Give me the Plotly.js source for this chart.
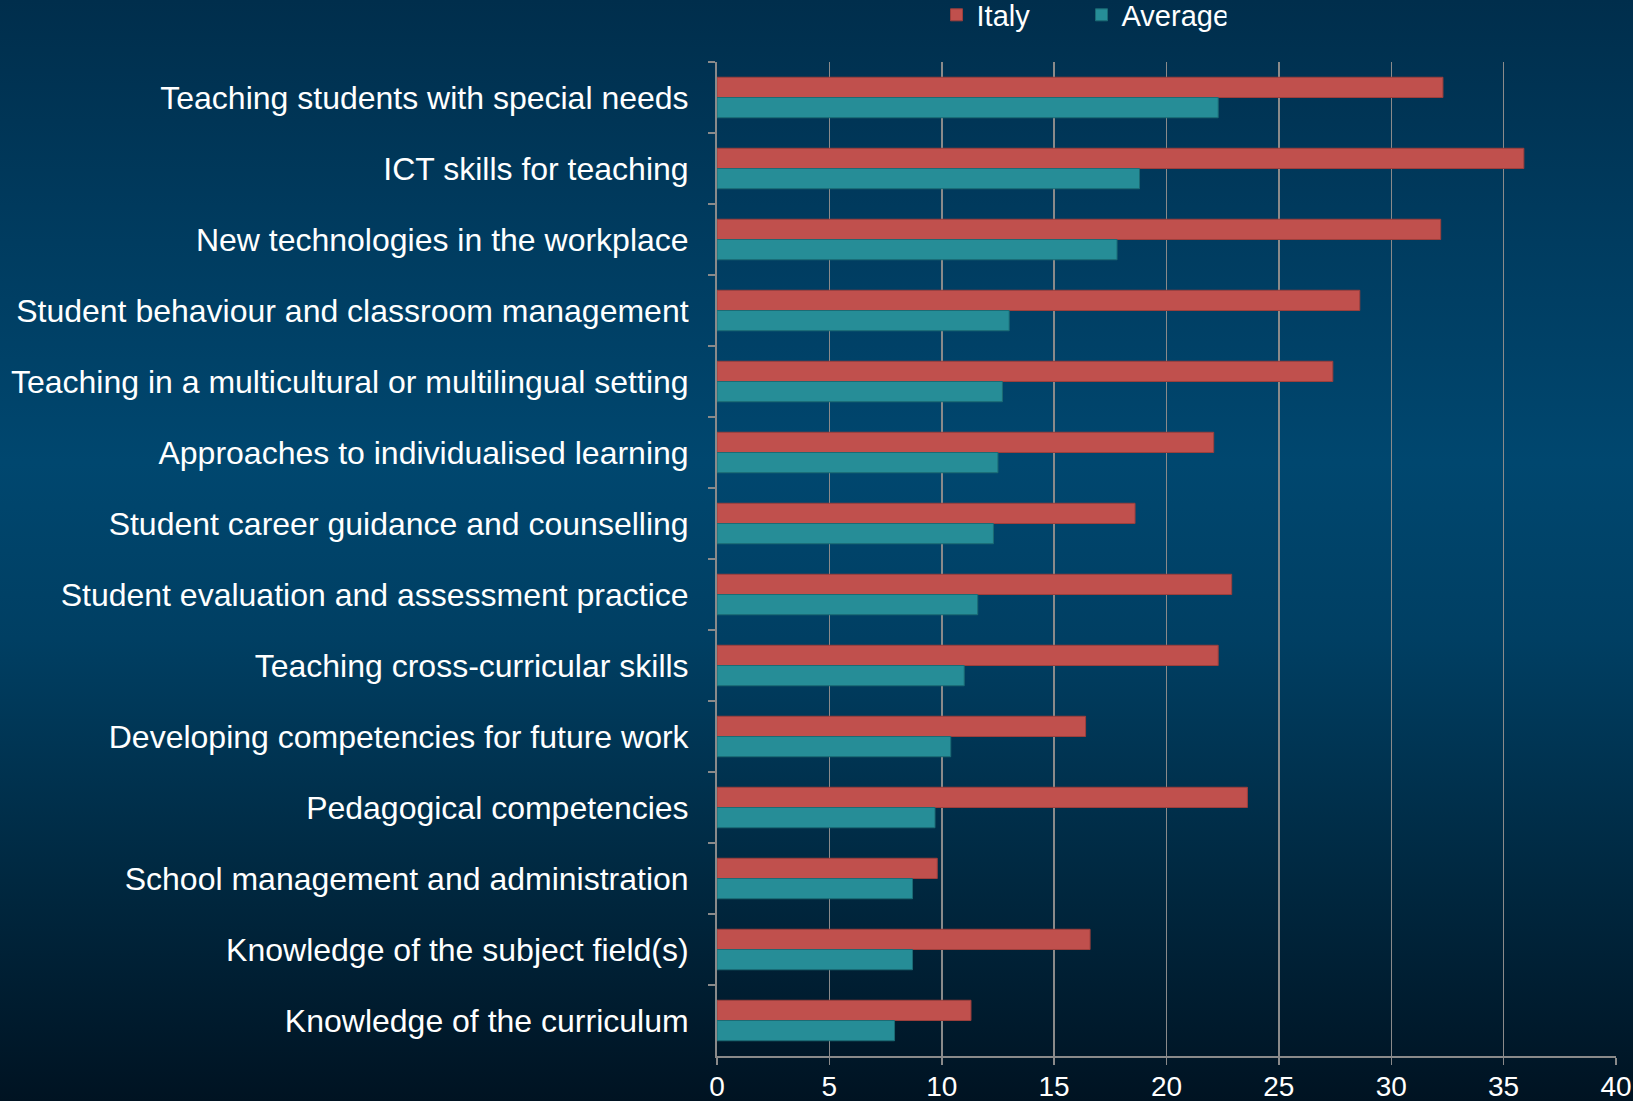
<!DOCTYPE html>
<html>
<head>
<meta charset="utf-8">
<script src="https://cdn.plot.ly/plotly-3.0.1.min.js"></script>
<style>
  html, body { margin: 0; padding: 0; }
  body {
    width: 1633px; height: 1101px; overflow: hidden;
    background: linear-gradient(to bottom, #002e4c 0%, #003c60 22%, #00476f 42%, #003f63 58%, #002840 80%, #001322 100%);
  }
  #chart { width: 1633px; height: 1101px; }
</style>
</head>
<body>
<div id="chart"></div>
<script>
const categories = [
  "Teaching students with special needs",
  "ICT skills for teaching",
  "New technologies in the workplace",
  "Student behaviour and classroom management",
  "Teaching in a multicultural or multilingual setting",
  "Approaches to individualised learning",
  "Student career guidance and counselling",
  "Student evaluation and assessment practice",
  "Teaching cross-curricular skills",
  "Developing competencies for future work",
  "Pedagogical competencies",
  "School management and administration",
  "Knowledge of the subject field(s)",
  "Knowledge of the curriculum"
];
const italy = [32.3, 35.9, 32.2, 28.6, 27.4, 22.1, 18.6, 22.9, 22.3, 16.4, 23.6, 9.8, 16.6, 11.3];
const average = [22.3, 18.8, 17.8, 13.0, 12.7, 12.5, 12.3, 11.6, 11.0, 10.4, 9.7, 8.7, 8.7, 7.9];
const seriesNames = ["Italy", "Average"];
const xTicks = [0, 5, 10, 15, 20, 25, 30, 35, 40];

const font = "Liberation Sans, Arial, sans-serif";

const traces = [
  {
    type: "bar", orientation: "h", name: seriesNames[0],
    y: categories, x: italy,
    marker: { color: "#c0504d", line: { color: "#9c3f3c", width: 1 } },
    hoverinfo: "x+y"
  },
  {
    type: "bar", orientation: "h", name: seriesNames[1],
    y: categories, x: average,
    marker: { color: "#268d97", line: { color: "#1c6b74", width: 1 } },
    hoverinfo: "x+y"
  }
];

const layout = {
  width: 1633, height: 1101,
  paper_bgcolor: "rgba(0,0,0,0)",
  plot_bgcolor: "rgba(0,0,0,0)",
  margin: { l: 717, r: 17, t: 62, b: 45, pad: 0 },
  barmode: "group",
  bargap: 0.43,
  bargroupgap: 0,
  font: { family: font, color: "#ffffff", size: 28 },
  showlegend: true,
  legend: {
    orientation: "h",
    xref: "container", yref: "container",
    x: 0.5735, xanchor: "left",
    y: 0.9864, yanchor: "middle",
    font: { family: font, size: 29, color: "#ffffff" },
    bgcolor: "rgba(0,0,0,0)",
    borderwidth: 0,
    entrywidth: 100,
    itemwidth: 30,
    traceorder: "normal"
  },
  xaxis: {
    range: [0, 40],
    tickvals: xTicks,
    ticktext: xTicks.map(String),
    showgrid: true,
    gridcolor: "#8a8a8a",
    gridwidth: 1.5,
    zeroline: false,
    showline: true,
    linecolor: "#8a8a8a",
    linewidth: 2,
    ticks: "outside",
    ticklen: 7,
    tickwidth: 1.5,
    tickcolor: "#8a8a8a",
    tickfont: { family: font, size: 28, color: "#ffffff" },
    ticklabelstandoff: -3,
    automargin: false,
    fixedrange: true
  },
  yaxis: {
    type: "category",
    autorange: "reversed",
    showgrid: false,
    zeroline: false,
    showline: true,
    linecolor: "#8a8a8a",
    linewidth: 2,
    ticks: "outside",
    tickson: "boundaries",
    ticklen: 7,
    tickwidth: 1.5,
    tickcolor: "#8a8a8a",
    tickfont: { family: font, size: 32, color: "#ffffff" },
    ticklabelstandoff: 20,
    automargin: false,
    fixedrange: true
  }
};

Plotly.newPlot("chart", traces, layout, { displayModeBar: false, staticPlot: true });
</script>
</body>
</html>
